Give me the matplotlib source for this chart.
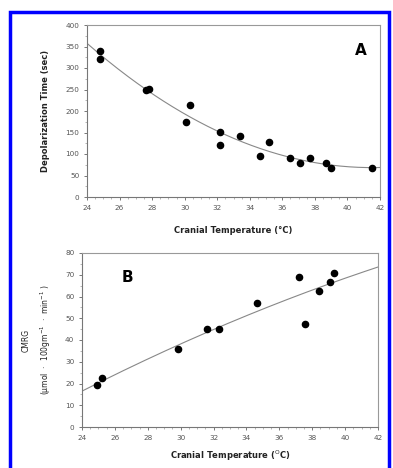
import numpy as np
import matplotlib
matplotlib.use("Agg")
import matplotlib.pyplot as plt
from matplotlib.patches import Rectangle
from matplotlib.ticker import MultipleLocator

# Panel A data
a_temp = [24.82, 24.82, 27.62, 27.82, 30.07, 30.34, 32.2, 32.2, 33.4, 34.6,
          35.2, 36.5, 37.1, 37.7, 38.7, 39.0, 41.5]
a_depol = [340, 320, 249, 251, 174, 214, 152, 121, 142, 96,
           128, 91, 80, 90, 79, 68, 68]

# Panel B data
b_temp = [24.93, 25.24, 29.85, 31.62, 32.31, 34.67, 37.19, 37.55, 38.39, 39.1, 39.3]
b_cmrg = [19.2, 22.3, 35.8, 45.1, 45.1, 56.9, 68.9, 47.4, 62.3, 66.6, 70.9]

W, H = 393, 468
fig = plt.figure(figsize=(W / 100, H / 100), dpi=100)
fig.patch.set_facecolor("white")

def ax_rect(l, t, r, b):
    return [l / W, 1 - b / H, (r - l) / W, (b - t) / H]

axA = fig.add_axes(ax_rect(87, 25, 380, 197))
axB = fig.add_axes(ax_rect(82, 253, 378, 427))

tick_col = "#555555"
spine_col = "#999999"

def style(ax, ymax, ystep):
    ax.set_xlim(24, 42)
    ax.set_ylim(0, ymax)
    ax.xaxis.set_major_locator(MultipleLocator(2))
    ax.xaxis.set_minor_locator(MultipleLocator(0.5))
    ax.yaxis.set_major_locator(MultipleLocator(ystep))
    ax.yaxis.set_minor_locator(MultipleLocator(ystep / 2))
    for s in ax.spines.values():
        s.set_color(spine_col)
        s.set_linewidth(0.8)
    ax.spines["left"].set_color("#777777")
    ax.spines["bottom"].set_color("#777777")
    ax.tick_params(which="major", direction="out", length=2.5, width=0.7,
                   color="#777777", labelsize=5.2, labelcolor=tick_col, pad=3)
    ax.tick_params(which="minor", direction="out", length=1.2, width=0.5,
                   color="#999999")

# Panel A
pA = np.polyfit(a_temp, a_depol, 2)
xs = np.linspace(24, 42, 200)
axA.plot(xs, np.polyval(pA, xs), color="#888888", lw=0.8, zorder=2)
axA.scatter(a_temp, a_depol, s=20, color="black", zorder=3)
style(axA, 400, 50)
axA.set_xlabel("Cranial Temperature (°C)", fontsize=6, fontweight="bold",
               color="#222222", labelpad=11)
axA.set_ylabel("Depolarization Time (sec)", fontsize=6, fontweight="bold",
               color="#222222", labelpad=11)
axA.text(0.935, 0.85, "A", transform=axA.transAxes, fontsize=11,
         fontweight="bold", ha="center", va="center")

# Panel B
pB = np.polyfit(b_temp, b_cmrg, 2)
axB.plot(xs, np.polyval(pB, xs), color="#888888", lw=0.8, zorder=2)
axB.scatter(b_temp, b_cmrg, s=20, color="black", zorder=3)
style(axB, 80, 10)
axB.set_xlabel("Cranial Temperature ($^{\\mathsf{O}}$C)", fontsize=6,
               fontweight="bold", color="#222222", labelpad=6)
axB.set_ylabel("CMRG\n(µmol  ·  100gm$^{-1}$  ·  min$^{-1}$ )", fontsize=5.5,
               color="#222222", labelpad=9, linespacing=1.7)
axB.text(0.155, 0.86, "B", transform=axB.transAxes, fontsize=11,
         fontweight="bold", ha="center", va="center")

# Blue frame
fig.patches.append(Rectangle((10 / W, -0.05), (389 - 10) / W, 1 - 12 / H + 0.05,
                             transform=fig.transFigure, fill=False,
                             edgecolor="#0000ff", lw=2.5, zorder=10))

fig.savefig("out.png", dpi=100)
